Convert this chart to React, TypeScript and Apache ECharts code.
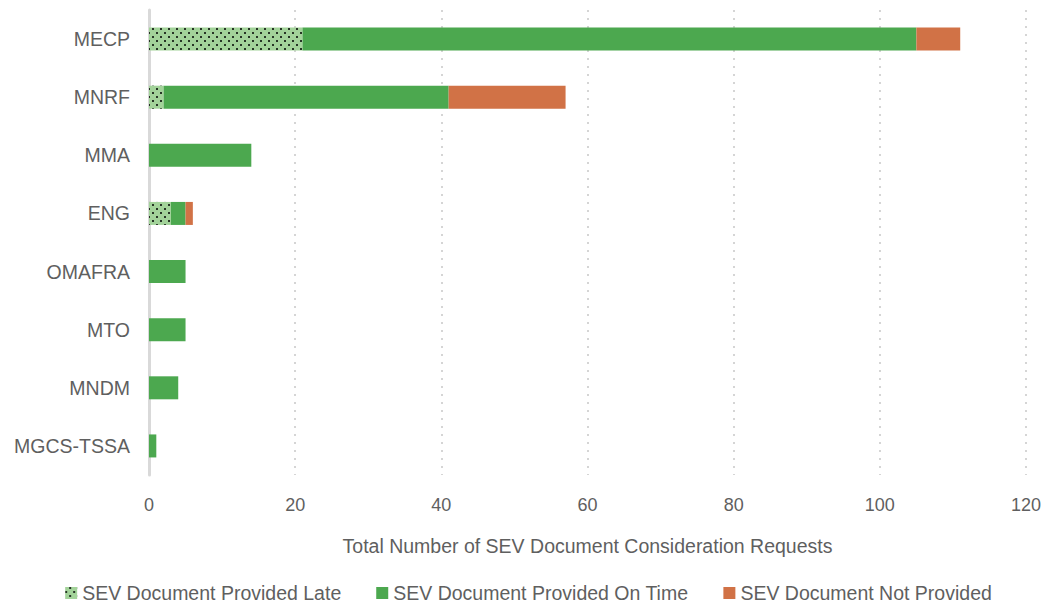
import React, { useEffect, useRef } from "react";
import * as echarts from "echarts";

const categories = ["MECP", "MNRF", "MMA", "ENG", "OMAFRA", "MTO", "MNDM", "MGCS-TSSA"];
const providedLate = [21, 2, 0, 3, 0, 0, 0, 0];
const providedOnTime = [84, 39, 14, 2, 5, 5, 4, 1];
const notProvided = [6, 16, 0, 1, 0, 0, 0, 0];
const xTicks = [0, 20, 40, 60, 80, 100, 120];
const seriesNames = [
  "SEV Document Provided Late",
  "SEV Document Provided On Time",
  "SEV Document Not Provided",
];

const FONT = "'Liberation Sans', Arial, sans-serif";
const TEXT = "#5f5f5f";

export default function App() {
  const ref = useRef<HTMLDivElement>(null);
  useEffect(() => {
    if (!ref.current) return;
    const chart = echarts.init(ref.current, undefined, { renderer: "svg" });
    const decal = {
      symbol: "rect",
      symbolSize: 1,
      color: "rgba(25,35,25,0.9)",
      dashArrayX: [
        [2, 5.5],
        [0, 3.75, 2, 1.75],
      ],
      dashArrayY: [2, 2],
      rotation: 0,
    };
    const mk = (v: number[]) => v.map((x) => (x === 0 ? null : x));
    chart.setOption({
      animation: false,
      textStyle: { fontFamily: FONT },
      grid: { left: 149, right: 31, top: 10, bottom: 130, containLabel: false },
      legend: {
        bottom: -3,
        left: "center",
        itemWidth: 12,
        itemHeight: 12,
        itemGap: 35,
        icon: "rect",
        textStyle: { fontSize: 19.5, color: TEXT, fontFamily: FONT },
        data: seriesNames,
      },
      xAxis: {
        type: "value",
        min: xTicks[0],
        max: xTicks[xTicks.length - 1],
        interval: 20,
        name: "Total Number of SEV Document Consideration Requests",
        nameLocation: "middle",
        nameGap: 61,
        nameTextStyle: { fontSize: 19.5, color: TEXT, fontFamily: FONT },
        axisLine: { show: false },
        axisTick: { show: false },
        axisLabel: { fontSize: 18, color: TEXT, margin: 21, fontFamily: FONT },
        splitLine: {
          show: true,
          lineStyle: { color: "#c8c8c8", type: [2, 6], width: 1.5 },
        },
      },
      yAxis: {
        type: "category",
        data: categories,
        inverse: true,
        axisLine: { show: true, lineStyle: { color: "#d9d9d9", width: 3 } },
        axisTick: { show: false },
        axisLabel: { fontSize: 19.5, color: TEXT, margin: 19, fontFamily: FONT },
        splitLine: { show: false },
      },
      series: [
        {
          name: seriesNames[0],
          type: "bar",
          stack: "total",
          barWidth: 23,
          data: mk(providedLate),
          itemStyle: { color: "#a3d39a", decal },
        },
        {
          name: seriesNames[1],
          type: "bar",
          stack: "total",
          barWidth: 23,
          data: mk(providedOnTime),
          itemStyle: { color: "#4ca84f" },
        },
        {
          name: seriesNames[2],
          type: "bar",
          stack: "total",
          barWidth: 23,
          data: mk(notProvided),
          itemStyle: { color: "#d17246" },
        },
      ],
    });
    return () => chart.dispose();
  }, []);
  return (
    <div
      ref={ref}
      style={{ position: "absolute", left: 0, top: 0, width: 1057, height: 605 }}
    />
  );
}
